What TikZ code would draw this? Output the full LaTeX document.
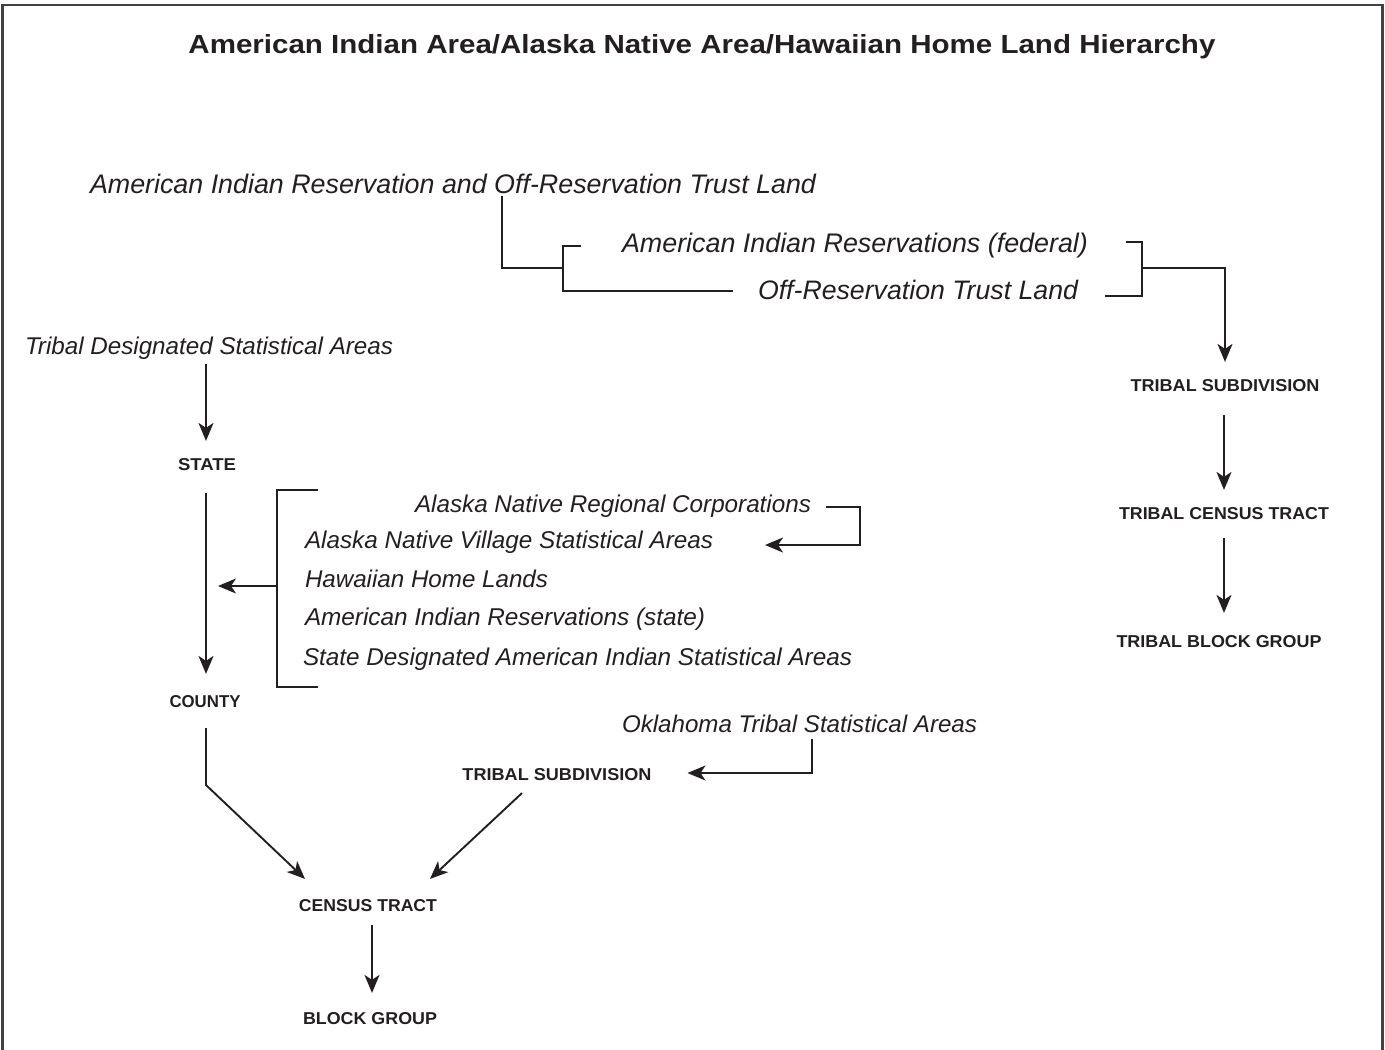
\documentclass[tikz,border=0pt]{standalone}
\usepackage{fontspec}
\setmainfont{Liberation Sans}
\usetikzlibrary{arrows.meta,calc}
\definecolor{ink}{HTML}{231F20}
\newcommand\itl[2]{\resizebox{#1pt}{!}{\fontsize{24}{28}\selectfont\itshape #2}}
\newcommand\cpl[3]{\resizebox{#1pt}{#2pt}{\fontsize{17}{20}\selectfont\bfseries #3}}
\tikzset{
  lbl/.style={inner sep=0pt,outer sep=0pt,anchor=west,text=ink},
  caplbl/.style={inner sep=0pt,outer sep=0pt,anchor=center,text=ink},
  conn/.style={draw=ink,line width=1.9pt},
  arr/.style={conn,-{Stealth[length=18pt,width=15pt,inset=5pt]}}
}
\begin{document}
\begin{tikzpicture}[x=1pt,y=-1pt]
\useasboundingbox (0,0) rectangle (1385,1050);
\draw[line width=2.5pt,draw=ink!85] (2.5,1060) -- (2.5,5) -- (1382.5,5) -- (1382.5,1060);
% title
\node[caplbl] (title) at (702,47) {\resizebox{1027pt}{19pt}{\fontsize{27}{30}\selectfont\bfseries American Indian Area/Alaska Native Area/Hawaiian Home Land Hierarchy}};
% top group
\node[lbl] (aiortl) at (90,184) {\itl{726}{American Indian Reservation and Off-Reservation Trust Land}};
\node[lbl] (fed) at (622,246) {\itl{466}{American Indian Reservations (federal)}};
\node[lbl] (ortl) at (758,290) {\itl{320}{Off-Reservation Trust Land}};
% right column
\node[caplbl] (tsubR) at (1225,386) {\cpl{189}{12}{TRIBAL SUBDIVISION}};
\node[caplbl] (tctR) at (1224,514) {\cpl{210}{12}{TRIBAL CENSUS TRACT}};
\node[caplbl] (tbgR) at (1219,642) {\cpl{205}{12}{TRIBAL BLOCK GROUP}};
% left column
\node[lbl] (tdsa) at (25,348) {\itl{368}{Tribal Designated Statistical Areas}};
\node[caplbl] (state) at (207,465) {\cpl{58}{12}{STATE}};
\node[caplbl] (county) at (205,702) {\cpl{71}{12}{COUNTY}};
\node[lbl] (anrc) at (415,506) {\itl{396}{Alaska Native Regional Corporations}};
\node[lbl] (anvsa) at (305,542) {\itl{408}{Alaska Native Village Statistical Areas}};
\node[lbl] (hhl) at (305,579) {\itl{243}{Hawaiian Home Lands}};
\node[lbl] (airs) at (305,619) {\itl{400}{American Indian Reservations (state)}};
\node[lbl] (sdaisa) at (303,659) {\itl{549}{State Designated American Indian Statistical Areas}};
% bottom
\node[lbl] (otsa) at (622,724) {\itl{355}{Oklahoma Tribal Statistical Areas}};
\node[caplbl] (tsubL) at (557,775) {\cpl{189}{12}{TRIBAL SUBDIVISION}};
\node[caplbl] (census) at (368,906) {\cpl{138}{12}{CENSUS TRACT}};
\node[caplbl] (block) at (370,1019) {\cpl{134}{12}{BLOCK GROUP}};
% bend coordinates
\coordinate (j1) at (502,268);
\coordinate (bl) at (563,268);
\coordinate (br) at (1142,268);
\coordinate (jr) at (1225,268);
\coordinate (lb) at (277,586);
\coordinate (lbt) at (218,586);
\coordinate (ak) at (860,545);
\coordinate (ok) at (812,773);
\coordinate (cj) at (206,785);
% top connectors
\draw[conn] (aiortl.south -| j1) ++(0,2) -- (j1) -- (bl);
\draw[conn] ($(fed.west)+(-41,0)$) -- (563,246) -- (563,291) -- ($(ortl.west)+(-25,1)$);
\draw[conn] ($(fed.east)+(38,-4)$) -- (1142,242) -- (1142,296) -- ($(ortl.east)+(27,6)$);
\draw[arr] (br) -- (jr) -- ($(tsubR.north -| jr)+(0,-18)$);
\draw[arr] ($(tsubR.south)+(-1,23)$) -- ($(tctR.north)+(0,-18)$);
\draw[arr] ($(tctR.south)+(0,18)$) -- ($(tbgR.north)+(5,-23)$);
% left column connectors
\draw[arr] ($(tdsa.south -| state)+(-1,5)$) -- ($(state.north)+(-1,-18)$);
\draw[arr] ($(state.south)+(-1,22)$) -- ($(county.north)+(1,-22)$);
\draw[conn] ($(anrc.west)+(-97,-16)$) -- (277,490) -- (277,687) -- ($(sdaisa.west)+(15,28)$);
\draw[arr] (lb) -- (lbt);
\draw[arr] ($(anrc.east)+(15,1)$) -- (860,507) -- (ak) -- ($(anvsa.east)+(52,3)$);
% bottom connectors
\draw[arr] ($(otsa.south -| ok)+(0,6)$) -- (ok) -- ($(tsubL.east)+(36,-2)$);
\draw[arr] ($(county.south)+(1,20)$) -- (cj) -- ($(census.north)+(-63,-21)$);
\draw[arr] ($(tsubL.south)+(-35,12)$) -- ($(census.north)+(62,-21)$);
\draw[arr] ($(census.south)+(4,13)$) -- ($(block.north)+(2,-20)$);
\end{tikzpicture}
\end{document}
